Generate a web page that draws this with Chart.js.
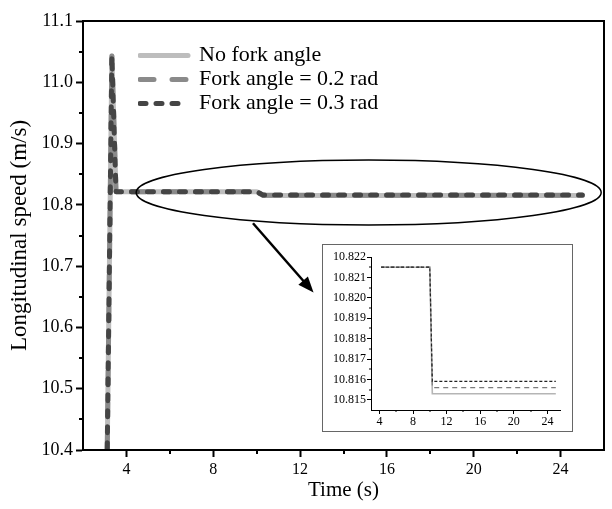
<!DOCTYPE html>
<html>
<head>
<meta charset="utf-8">
<script src="https://cdn.jsdelivr.net/npm/chart.js@4.4.0/dist/chart.umd.min.js"></script>
<style>
  body { margin: 0; background: #fff; }
  #wrap { position: relative; width: 612px; height: 509px; }
  #inset { position: absolute; left: 322px; top: 244px; width: 251px; height: 188px;
           border: 1px solid #666; background: #fff; box-sizing: border-box; }
</style>
</head>
<body>
<div id="wrap">
  <canvas id="main" width="612" height="509"></canvas>
  <div id="inset"><canvas id="zoom" width="249" height="186"></canvas></div>
</div>
<script>
'use strict';

// time (s)
var times  = [3.1, 3.33, 3.52, 4.2, 10.0, 10.3, 25.0];
// longitudinal speed (m/s)
var noFork = [10.35, 11.043, 10.8215, 10.8215, 10.8215, 10.8153, 10.8153];
var fork02 = [10.35, 11.043, 10.8215, 10.8215, 10.8215, 10.8156, 10.8156];
var fork03 = [10.35, 11.043, 10.8215, 10.8215, 10.8215, 10.8159, 10.8159];
var seriesLabels = ['No fork angle', 'Fork angle = 0.2 rad', 'Fork angle = 0.3 rad'];

var xTicks = [4, 8, 12, 16, 20, 24];
var xMinor = [6, 10, 14, 18, 22];
var yTicks = [10.4, 10.5, 10.6, 10.7, 10.8, 10.9, 11.0, 11.1];
var yMinor = [10.45, 10.55, 10.65, 10.75, 10.85, 10.95, 11.05];

var insetStart = 4.2;
var insetXTicks = [4, 8, 12, 16, 20, 24];
var insetXMinor = [6, 10, 14, 18, 22];
var insetYTicks = [10.815, 10.816, 10.817, 10.818, 10.819, 10.820, 10.821, 10.822];
var insetYMinor = [10.8155, 10.8165, 10.8175, 10.8185, 10.8195, 10.8205, 10.8215];

Chart.defaults.font.family = "'Liberation Serif', 'Times New Roman', serif";
Chart.defaults.color = '#000';

function points(vals, from) {
    var out = [];
    for (var i = 0; i < times.length; i++) {
        if (times[i] >= (from || 0)) out.push({x: times[i], y: vals[i]});
    }
    return out;
}

function fixedTicks(list) {
    return function (scale) {
        scale.ticks = list.map(function (v) { return {value: v}; });
    };
}

// short minor ticks on the outside of the axes
var minorTicksPlugin = {
    id: 'minorTicks',
    afterDraw: function (chart, args, opts) {
        var ctx = chart.ctx, xs = chart.scales.x, ys = chart.scales.y;
        var area = chart.chartArea;
        ctx.save();
        ctx.strokeStyle = '#000';
        ctx.lineWidth = opts.width;
        ctx.beginPath();
        opts.x.forEach(function (v) {
            var px = Math.round(xs.getPixelForValue(v));
            ctx.moveTo(px, area.bottom);
            ctx.lineTo(px, area.bottom + opts.len);
        });
        opts.y.forEach(function (v) {
            var py = Math.round(ys.getPixelForValue(v));
            ctx.moveTo(area.left, py);
            ctx.lineTo(area.left - opts.len, py);
        });
        ctx.stroke();
        ctx.restore();
    }
};

// box round the plot, the ellipse and the arrow to the inset
var calloutPlugin = {
    id: 'callout',
    afterDatasetsDraw: function (chart) {
        var ctx = chart.ctx, xs = chart.scales.x, ys = chart.scales.y;
        var a = chart.chartArea;

        ctx.save();
        ctx.strokeStyle = '#000';
        ctx.lineWidth = 2;
        ctx.strokeRect(a.left, a.top, a.right - a.left, a.bottom - a.top);

        var cx = xs.getPixelForValue(15.16), cy = ys.getPixelForValue(10.8202);
        var rx = xs.getPixelForValue(15.16 + 10.71) - cx;
        var ry = cy - ys.getPixelForValue(10.8202 + 0.053);
        ctx.lineWidth = 1.5;
        ctx.beginPath();
        ctx.ellipse(cx, cy, rx, ry, 0, 0, Math.PI * 2);
        ctx.stroke();

        var x1 = xs.getPixelForValue(9.83), y1 = ys.getPixelForValue(10.770);
        var x2 = xs.getPixelForValue(12.62), y2 = ys.getPixelForValue(10.657);
        var ang = Math.atan2(y2 - y1, x2 - x1);
        var head = 17;
        ctx.lineWidth = 2.5;
        ctx.beginPath();
        ctx.moveTo(x1, y1);
        ctx.lineTo(x2 - Math.cos(ang) * head * 0.8, y2 - Math.sin(ang) * head * 0.8);
        ctx.stroke();
        ctx.fillStyle = '#000';
        ctx.beginPath();
        ctx.moveTo(x2, y2);
        ctx.lineTo(x2 - head * Math.cos(ang - 0.38), y2 - head * Math.sin(ang - 0.38));
        ctx.lineTo(x2 - head * Math.cos(ang + 0.38), y2 - head * Math.sin(ang + 0.38));
        ctx.closePath();
        ctx.fill();
        ctx.restore();
    }
};

// legend sits inside the plot, below the top left corner
var legendSpot = {
    id: 'legendSpot',
    afterLayout: function (chart) {
        var lg = chart.legend;
        if (!lg) return;
        lg.left = 138;
        lg.top = 42.5;
        lg.bottom = lg.top + lg.height;
        lg.right = lg.left + lg.width;
    }
};

var mainCfg = {
    type: 'line',
    data: {
        datasets: [{
            label: seriesLabels[0],
            data: points(noFork),
            borderColor: '#bdbdbd',
            borderWidth: 5,
            borderCapStyle: 'round',
            order: 3
        }, {
            label: seriesLabels[1],
            data: points(fork02),
            borderColor: '#8a8a8a',
            borderWidth: 5,
            borderDash: [14, 18],
            borderCapStyle: 'round',
            order: 2
        }, {
            label: seriesLabels[2],
            data: points(fork03),
            borderColor: '#454545',
            borderWidth: 5,
            borderDash: [6, 10],
            borderCapStyle: 'round',
            order: 1
        }]
    },
    options: {
        responsive: false,
        animation: false,
        events: [],
        layout: { padding: { top: 21, right: 8, left: 0, bottom: 0 } },
        elements: {
            point: { radius: 0, pointStyle: 'line' },
            line: { tension: 0, borderJoinStyle: 'round' }
        },
        scales: {
            x: {
                type: 'linear', min: 2, max: 26,
                afterBuildTicks: fixedTicks(xTicks),
                afterFit: function (s) { s.height = 59; },
                grid: { drawOnChartArea: false, tickLength: 7, tickWidth: 2, tickColor: '#000' },
                border: { color: '#000', width: 2 },
                ticks: { color: '#000', font: { size: 16 }, padding: 3, maxRotation: 0 },
                title: { display: true, text: 'Time (s)', color: '#000', font: { size: 21 },
                         padding: { top: 0, bottom: 6 } }
            },
            y: {
                min: 10.4, max: 11.1,
                afterBuildTicks: fixedTicks(yTicks),
                afterFit: function (s) { s.width = 83; },
                grid: { drawOnChartArea: false, tickLength: 7, tickWidth: 2, tickColor: '#000' },
                border: { color: '#000', width: 2 },
                ticks: { color: '#000', font: { size: 18 }, padding: 3,
                         callback: function (v) { return v.toFixed(1); } },
                title: { display: true, text: 'Longitudinal speed (m/s)', color: '#000',
                         font: { size: 23 }, padding: { top: 6, bottom: 0 } }
            }
        },
        plugins: {
            legend: {
                position: 'chartArea',
                align: 'start',
                labels: {
                    usePointStyle: true,
                    pointStyleWidth: 48,
                    padding: 2,
                    color: '#000',
                    font: { size: 22 },
                    generateLabels: function (chart) {
                        var items = Chart.defaults.plugins.legend.labels.generateLabels(chart);
                        items.forEach(function (it) {
                            var ds = chart.data.datasets[it.datasetIndex];
                            it.lineDash = ds.borderDash || [];
                            it.lineWidth = ds.borderWidth;
                            it.strokeStyle = ds.borderColor;
                            it.lineCap = ds.borderCapStyle;
                        });
                        return items.sort(function (a, b) { return a.datasetIndex - b.datasetIndex; });
                    }
                }
            },
            tooltip: { enabled: false },
            minorTicks: { x: xMinor, y: yMinor, len: 4, width: 2 }
        }
    },
    plugins: [minorTicksPlugin, calloutPlugin, legendSpot]
};

var ctx = document.getElementById('main').getContext('2d');
window.mainChart = new Chart(ctx, mainCfg);

var zoomCfg = {
    type: 'line',
    data: {
        datasets: [{
            label: seriesLabels[0],
            data: points(noFork, insetStart),
            borderColor: '#b5b5b5',
            borderWidth: 1.6,
            order: 3
        }, {
            label: seriesLabels[1],
            data: points(fork02, insetStart),
            borderColor: '#7a7a7a',
            borderWidth: 1.2,
            borderDash: [5, 4],
            order: 2
        }, {
            label: seriesLabels[2],
            data: points(fork03, insetStart),
            borderColor: '#222',
            borderWidth: 1.2,
            borderDash: [3, 2],
            order: 1
        }]
    },
    options: {
        responsive: false,
        animation: false,
        events: [],
        layout: { padding: { top: 12, right: 12, left: 0, bottom: 0 } },
        elements: { point: { radius: 0 }, line: { tension: 0 } },
        scales: {
            x: {
                type: 'linear', min: 3, max: 25.5,
                afterBuildTicks: fixedTicks(insetXTicks),
                afterFit: function (s) { s.height = 21; },
                grid: { drawOnChartArea: false, tickLength: 4, tickWidth: 1, tickColor: '#000' },
                border: { color: '#000', width: 1 },
                ticks: { color: '#000', font: { size: 12 }, padding: 1, maxRotation: 0 }
            },
            y: {
                min: 10.8145, max: 10.822,
                afterBuildTicks: fixedTicks(insetYTicks),
                afterFit: function (s) { s.width = 48; },
                grid: { drawOnChartArea: false, tickLength: 4, tickWidth: 1, tickColor: '#000' },
                border: { color: '#000', width: 1 },
                ticks: { color: '#000', font: { size: 12 }, padding: 1,
                         callback: function (v) { return v.toFixed(3); } }
            }
        },
        plugins: {
            legend: { display: false },
            tooltip: { enabled: false },
            minorTicks: { x: insetXMinor, y: insetYMinor, len: 2, width: 1 }
        }
    },
    plugins: [minorTicksPlugin]
};

window.zoomChart = new Chart(document.getElementById('zoom').getContext('2d'), zoomCfg);
</script>
</body>
</html>
